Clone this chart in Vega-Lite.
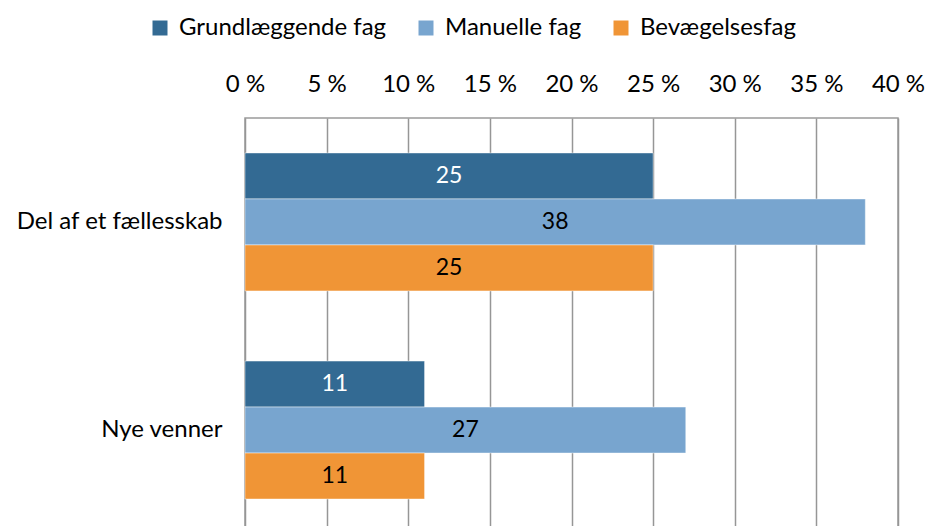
{
  "$schema": "https://vega.github.io/schema/vega-lite/v6.json",
  "width": 653,
  "height": 416,
  "autosize": {"type": "none"},
  "padding": {"left": 245, "top": 118, "right": 29, "bottom": 0},
  "background": "white",
  "config": {
    "font": "Lato",
    "view": {"stroke": "#9a9a9a", "strokeWidth": 1.5}
  },
  "data": {
    "values": [
      {"kategori": "Del af et fællesskab", "fag": "Grundlæggende fag", "pct": 25},
      {"kategori": "Del af et fællesskab", "fag": "Manuelle fag", "pct": 38},
      {"kategori": "Del af et fællesskab", "fag": "Bevægelsesfag", "pct": 25},
      {"kategori": "Nye venner", "fag": "Grundlæggende fag", "pct": 11},
      {"kategori": "Nye venner", "fag": "Manuelle fag", "pct": 27},
      {"kategori": "Nye venner", "fag": "Bevægelsesfag", "pct": 11}
    ]
  },
  "encoding": {
    "y": {
      "field": "kategori",
      "type": "nominal",
      "sort": ["Del af et fællesskab", "Nye venner"],
      "scale": {"paddingInner": 0.337, "paddingOuter": 0.168},
      "axis": {
        "title": null,
        "ticks": false,
        "domain": false,
        "labelPadding": 23,
        "labelFontSize": 24,
        "labelColor": "#000000",
        "labelFont": "Lato",
        "labelLimit": 0
      }
    },
    "yOffset": {
      "field": "fag",
      "type": "nominal",
      "sort": ["Grundlæggende fag", "Manuelle fag", "Bevægelsesfag"],
      "scale": {"paddingInner": 0, "paddingOuter": 0}
    }
  },
  "resolve": {"scale": {"x": "independent"}, "axis": {"x": "independent"}},
  "layer": [
    {
      "mark": {"type": "bar", "stroke": "white", "strokeOpacity": 0.45, "strokeWidth": 1},
      "encoding": {
        "x": {
          "field": "pct",
          "type": "quantitative",
          "scale": {"domain": [0, 40], "nice": false},
          "axis": {
            "orient": "top",
            "title": null,
            "values": [0, 5, 10, 15, 20, 25, 30, 35, 40],
            "labelExpr": "datum.value + ' %'",
            "ticks": false,
            "domain": false,
            "labelPadding": 22,
            "labelFontSize": 24,
            "labelColor": "#000000",
            "labelFont": "Lato",
            "labelOverlap": false,
            "labelFlush": false,
            "grid": true,
            "gridColor": "#969696",
            "gridWidth": 1.5
          }
        },
        "color": {
          "field": "fag",
          "type": "nominal",
          "sort": ["Grundlæggende fag", "Manuelle fag", "Bevægelsesfag"],
          "scale": {
            "domain": ["Grundlæggende fag", "Manuelle fag", "Bevægelsesfag"],
            "range": ["#336a93", "#78a5cf", "#f09536"]
          },
          "legend": {
            "title": null,
            "orient": "none",
            "direction": "horizontal",
            "legendX": -97,
            "legendY": -102,
            "symbolType": "square",
            "symbolSize": 225,
            "symbolStrokeWidth": 0,
            "labelFontSize": 24,
            "labelFont": "Lato",
            "labelColor": "#000000",
            "labelLimit": 0,
            "columnPadding": 27,
            "labelOffset": 7
          }
        }
      }
    },
    {
      "mark": {"type": "text", "fontSize": 23, "font": "Lato", "align": "center", "baseline": "middle"},
      "encoding": {
        "x": {
          "field": "pct",
          "type": "quantitative",
          "scale": {"domain": [0, 80], "nice": false},
          "axis": null
        },
        "text": {"field": "pct", "type": "quantitative"},
        "color": {
          "condition": {"test": "datum.fag === 'Grundlæggende fag'", "value": "#ffffff"},
          "value": "#000000"
        }
      }
    }
  ]
}
